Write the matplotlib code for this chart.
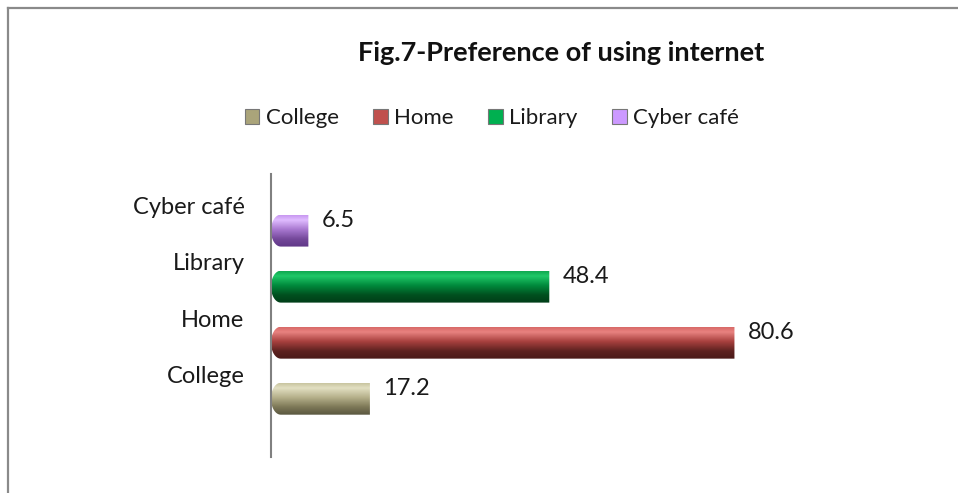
import numpy as np
import matplotlib
matplotlib.use("Agg")
import matplotlib.pyplot as plt
from matplotlib.path import Path
from matplotlib.patches import PathPatch, Patch
from matplotlib.colors import LinearSegmentedColormap
from matplotlib.lines import Line2D

# Data
categories = ['College', 'Home', 'Library', 'Cyber café']
values = [17.2, 80.6, 48.4, 6.5]

# legend / base colours and cylinder shading (light top -> dark bottom)
base_colors = ['#aaa47a', '#c0504d', '#00b050', '#cc99ff']
shades = [
    ['#c9c5a0', '#e2dfc2', '#b5b08a', '#7d7857', '#5a5740'],
    ['#d86a68', '#e88280', '#a8403e', '#5e2220', '#4a1a18'],
    ['#10a850', '#20c868', '#008a3c', '#00501f', '#003d18'],
    ['#c898f0', '#e0bcff', '#a878d0', '#74489a', '#603888'],
]

plt.rcParams['font.family'] = ['Lato', 'DejaVu Sans']

fig = plt.figure(figsize=(9.58, 4.93), dpi=100)
ax = fig.add_axes([271 / 958, 36 / 493, 575 / 958, 283 / 493])

ypos = np.arange(len(categories))
bar_off = 0.44
bar_h = 0.57
bars = ax.barh(ypos - bar_off, values, height=bar_h, color='none', edgecolor='none')

ax.set_xlim(0, 100)
ax.set_ylim(-1.48, 3.57)

r = 1.7  # rounded cap radius (x data units)
for bar, sh in zip(bars, shades):
    x0, y0 = bar.get_x(), bar.get_y()
    w, h = bar.get_width(), bar.get_height()
    x1, y1 = x0 + w, y0 + h
    t = np.linspace(np.pi / 2, 3 * np.pi / 2, 30)
    arc = np.column_stack([x0 + r + r * np.cos(t), (y0 + y1) / 2 + (h / 2) * np.sin(t)])
    verts = np.vstack([[[x1, y1]], arc, [[x1, y0]], [[x1, y1]]])
    codes = [Path.MOVETO] + [Path.LINETO] * (len(verts) - 2) + [Path.CLOSEPOLY]
    clip = PathPatch(Path(verts, codes), facecolor='none', edgecolor='none')
    ax.add_patch(clip)
    cmap = LinearSegmentedColormap.from_list('c', [(0, sh[0]), (0.15, sh[1]), (0.45, sh[2]), (0.75, sh[3]), (1, sh[4])])
    grad = np.linspace(0, 1, 100).reshape(-1, 1)
    im = ax.imshow(grad, cmap=cmap, extent=[x0, x1, y0, y1], origin='upper',
                   aspect='auto', interpolation='bilinear', zorder=2)
    im.set_clip_path(clip)

ax.set_xlim(0, 100)
ax.set_ylim(-1.48, 3.57)

# value labels
for bar, v in zip(bars, values):
    ax.annotate(f'{v}', (bar.get_width(), bar.get_y() + bar.get_height() / 2),
                xytext=(13, 10), textcoords='offset pixels', ha='left', va='center',
                fontsize=17, color='#1a1a1a')

ax.set_yticks(ypos)
ax.set_yticklabels(categories, fontsize=17, color='#1a1a1a')
ax.tick_params(axis='y', length=0, pad=19)
ax.set_xticks([])
for s in ['top', 'right', 'bottom']:
    ax.spines[s].set_visible(False)
ax.spines['left'].set_color('#808080')
ax.spines['left'].set_linewidth(1.5)

# title
fig.text(561 / 958, 1 - 53 / 493, 'Fig.7-Preference of using internet',
         ha='center', va='center', fontsize=19.5, fontweight='bold', color='#111111')

# legend
handles = [Patch(facecolor=c, edgecolor='#777777', linewidth=0.8) for c in base_colors]
fig.legend(handles, categories, loc='center', bbox_to_anchor=(492 / 958, 1 - 118 / 493),
           ncol=4, frameon=False, fontsize=16, handlelength=0.65, handleheight=0.65,
           handletextpad=0.3, columnspacing=1.55, labelcolor='#1a1a1a')

# outer frame (left + top)
fig.add_artist(Line2D([7.5 / 958, 7.5 / 958], [0, 1 - 7.5 / 493], color='#8a8a8a', lw=1.6))
fig.add_artist(Line2D([7.5 / 958, 1], [1 - 7.5 / 493, 1 - 7.5 / 493], color='#8a8a8a', lw=1.6))

fig.savefig('out.png', dpi=100)
